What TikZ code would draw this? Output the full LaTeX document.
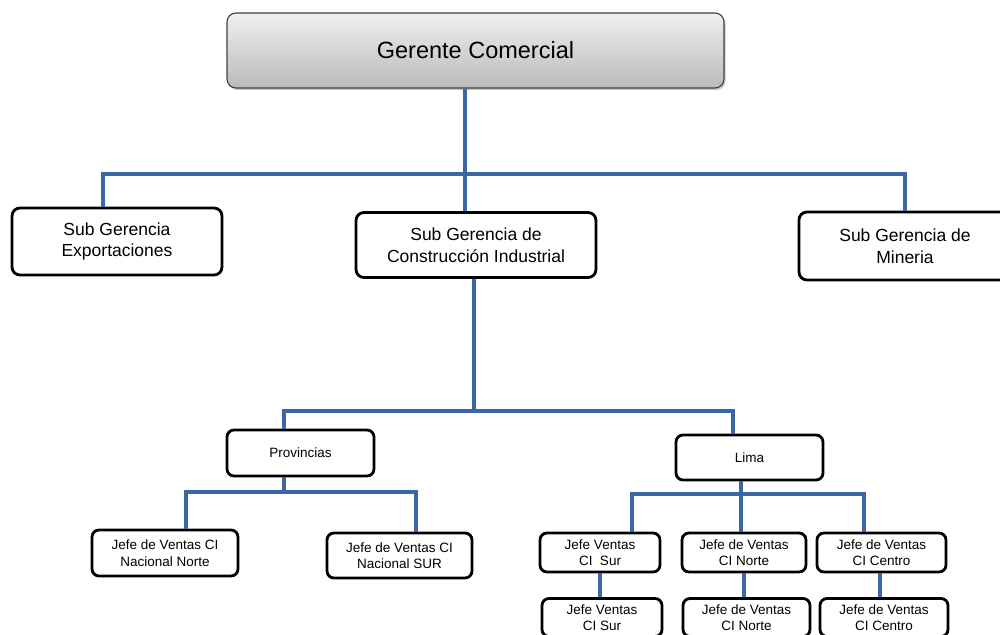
\documentclass[tikz,border=0pt]{standalone}
\usepackage{fontspec}
\setmainfont{Liberation Sans}
\usetikzlibrary{shadows}
\definecolor{conncol}{HTML}{3B67A2}
\begin{document}
\begin{tikzpicture}[x=1pt,y=-1pt,
  conn/.style={draw=conncol,line width=3.8pt},
  topbox/.style={draw=black!75,line width=1.1pt,rounded corners=9pt,top color=black!6,bottom color=black!27,
     drop shadow={shadow xshift=1.5pt,shadow yshift=-2pt,fill=black!35,opacity=.6},inner sep=0pt,
     font=\fontsize{23.5}{26}\selectfont},
  subbox/.style={draw=black,line width=2.8pt,rounded corners=8pt,fill=white,align=center,inner sep=0pt,
     font=\fontsize{17.5}{21.5}\selectfont},
  smallbox/.style={draw=black,line width=2.8pt,rounded corners=7pt,fill=white,align=center,inner sep=0pt,
     font=\fontsize{13.5}{16.5}\selectfont}]
\useasboundingbox (0,0) rectangle (1000,634);
\fill[white] (0,0) rectangle (1000,634);
% nodes
\node[topbox,minimum width=497pt,minimum height=75pt] (top) at (475.5,50.5) {Gerente Comercial};
\node[subbox,minimum width=210pt,minimum height=67pt] (exp) at (117,241.5) {Sub Gerencia\\Exportaciones};
\node[subbox,minimum width=240pt,minimum height=65pt] (ci) at (476,245) {Sub Gerencia de\\Construcción Industrial};
\node[subbox,minimum width=212pt,minimum height=68pt] (min) at (905,246) {Sub Gerencia de\\Mineria};
\node[smallbox,minimum width=147pt,minimum height=46pt] (prov) at (300.5,453) {Provincias};
\node[smallbox,minimum width=147pt,minimum height=45pt] (lima) at (749.5,457.5) {Lima};
\node[smallbox,minimum width=146pt,minimum height=46pt] (nn) at (165,553) {Jefe de Ventas CI\\Nacional Norte};
\node[smallbox,minimum width=145pt,minimum height=45pt] (ns) at (399.5,555.5) {Jefe de Ventas CI\\Nacional SUR};
\node[smallbox,minimum width=120pt,minimum height=39pt] (s1) at (600,552.5) {Jefe Ventas\\CI\ \ Sur};
\node[smallbox,minimum width=124pt,minimum height=39pt] (n1) at (744,552.5) {Jefe de Ventas\\CI\ Norte};
\node[smallbox,minimum width=129pt,minimum height=39pt] (c1) at (881.5,552.5) {Jefe de Ventas\\CI\ Centro};
\node[smallbox,minimum width=120pt,minimum height=38pt] (s2) at (602,617.5) {Jefe Ventas\\CI\ Sur};
\node[smallbox,minimum width=127pt,minimum height=38pt] (n2) at (746.5,617.5) {Jefe de Ventas\\CI\ Norte};
\node[smallbox,minimum width=128pt,minimum height=38pt] (c2) at (884,617.5) {Jefe de Ventas\\CI\ Centro};
% junctions
\coordinate (j1) at (465,174);
\coordinate (j2) at (474,411);
\coordinate (j3) at (284,492);
\coordinate (j4) at (741,494);
% connectors
\draw[conn] (top.south -| j1) -- (j1);
\draw[conn] (exp.north -| 103,0) |- (j1) -| (min.north);
\draw[conn] (j1) -- (ci.north -| j1);
\draw[conn] (ci.south -| j2) -- (j2);
\draw[conn] (prov.north -| j3) |- (j2) -| (lima.north -| 733,0);
\draw[conn] (prov.south -| j3) -- (j3);
\draw[conn] (nn.north -| 186,0) |- (j3) -| (ns.north -| 416,0);
\draw[conn] (lima.south -| j4) -- (j4);
\draw[conn] (s1.north -| 632,0) |- (j4) -| (c1.north -| 864,0);
\draw[conn] (j4) -- (n1.north -| j4);
\draw[conn] (s1.south) -- (s2.north -| s1.south);
\draw[conn] (n1.south) -- (n2.north -| n1.south);
\draw[conn] (c1.south -| 880,0) -- (c2.north -| 880,0);
\end{tikzpicture}
\end{document}
